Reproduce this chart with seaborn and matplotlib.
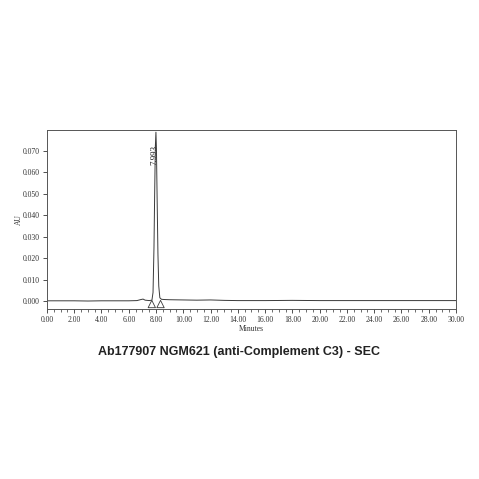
import matplotlib
matplotlib.use("Agg")
import matplotlib.pyplot as plt
import pandas as pd
import seaborn as sns

# chromatogram trace (minutes, AU)
minutes = [0.0, 1.0, 2.0, 3.0, 4.0, 5.0, 6.0, 6.6, 6.9, 7.05, 7.2, 7.5, 7.7,
           7.78, 7.85, 7.9, 7.95, 7.993, 8.03, 8.08, 8.14, 8.2, 8.28, 8.4,
           8.6, 9.0, 10.0, 11.0, 12.0, 13.0, 14.0, 16.0, 18.0, 20.0, 22.0,
           24.0, 26.0, 28.0, 30.0]
signal = [0.0001, 0.0001, 0.0001, 0.0000, 0.0001, 0.0001, 0.0001, 0.0002,
          0.0007, 0.0009, 0.0004, 0.0002, 0.0004, 0.004, 0.025, 0.050,
          0.072, 0.0787, 0.071, 0.048, 0.022, 0.007, 0.0015, 0.0008,
          0.0007, 0.0006, 0.0005, 0.0004, 0.0005, 0.0003, 0.0002, 0.0002,
          0.0003, 0.0002, 0.0002, 0.0002, 0.0002, 0.0002, 0.0002]

peak_rt = 7.993
peak_label = "7.993"
# peak start / end markers
marker_minutes = [7.69, 8.33]
marker_signal = [-0.0014, -0.0014]

x_ticks = [0, 2, 4, 6, 8, 10, 12, 14, 16, 18, 20, 22, 24, 26, 28, 30]
y_ticks = [0.0, 0.01, 0.02, 0.03, 0.04, 0.05, 0.06, 0.07]
title = "Ab177907 NGM621 (anti-Complement C3) - SEC"

sns.set_style("ticks")
plt.rcParams["font.family"] = ["Liberation Serif", "DejaVu Serif"]

trace = pd.DataFrame({"Minutes": minutes, "AU": signal})
marks = pd.DataFrame({"Minutes": marker_minutes, "AU": marker_signal})

fig = plt.figure(figsize=(4.79, 4.79), dpi=100)
ax = fig.add_axes([0.098, 0.355, 0.854, 0.374])

sns.lineplot(data=trace, x="Minutes", y="AU", ax=ax, color="#3a3a3a",
             linewidth=0.7, estimator=None, sort=False)
ax.scatter(marks["Minutes"], marks["AU"], marker="^", s=28,
           facecolors="none", edgecolors="#3a3a3a", linewidths=0.6, zorder=3)
ax.text(peak_rt - 0.08, 0.068, peak_label, rotation=90, ha="center",
        va="center", fontsize=6.5, color="#222222")

ax.set_xlim(0, 30)
ax.set_ylim(-0.0037, 0.0798)
ax.set_xticks(x_ticks)
ax.set_xticklabels([f"{v:.2f}" for v in x_ticks])
ax.set_xticks([v / 2 for v in range(61)], minor=True)
ax.set_yticks(y_ticks)
ax.set_yticklabels([f"{v:.3f}" for v in y_ticks])
ax.tick_params(axis="both", which="major", labelsize=5.5, length=3, width=0.6,
               colors="#333333", pad=2)
ax.tick_params(axis="x", which="minor", length=2, width=0.5, colors="#333333")
ax.set_xlabel("Minutes", fontsize=5.5, color="#333333")
ax.set_ylabel("AU", fontsize=5.5, color="#333333")
ax.xaxis.set_label_coords(0.5, -0.09)
ax.yaxis.set_label_coords(-0.058, 0.5)
for sp in ax.spines.values():
    sp.set_visible(True)
    sp.set_linewidth(0.7)
    sp.set_color("#555555")

fig.text(0.5, 0.265, title, ha="center", va="center", fontsize=9,
         fontweight="bold", family=["Liberation Sans", "DejaVu Sans"],
         color="#222222")

fig.savefig("out.png", dpi=100)
plt.close(fig)
